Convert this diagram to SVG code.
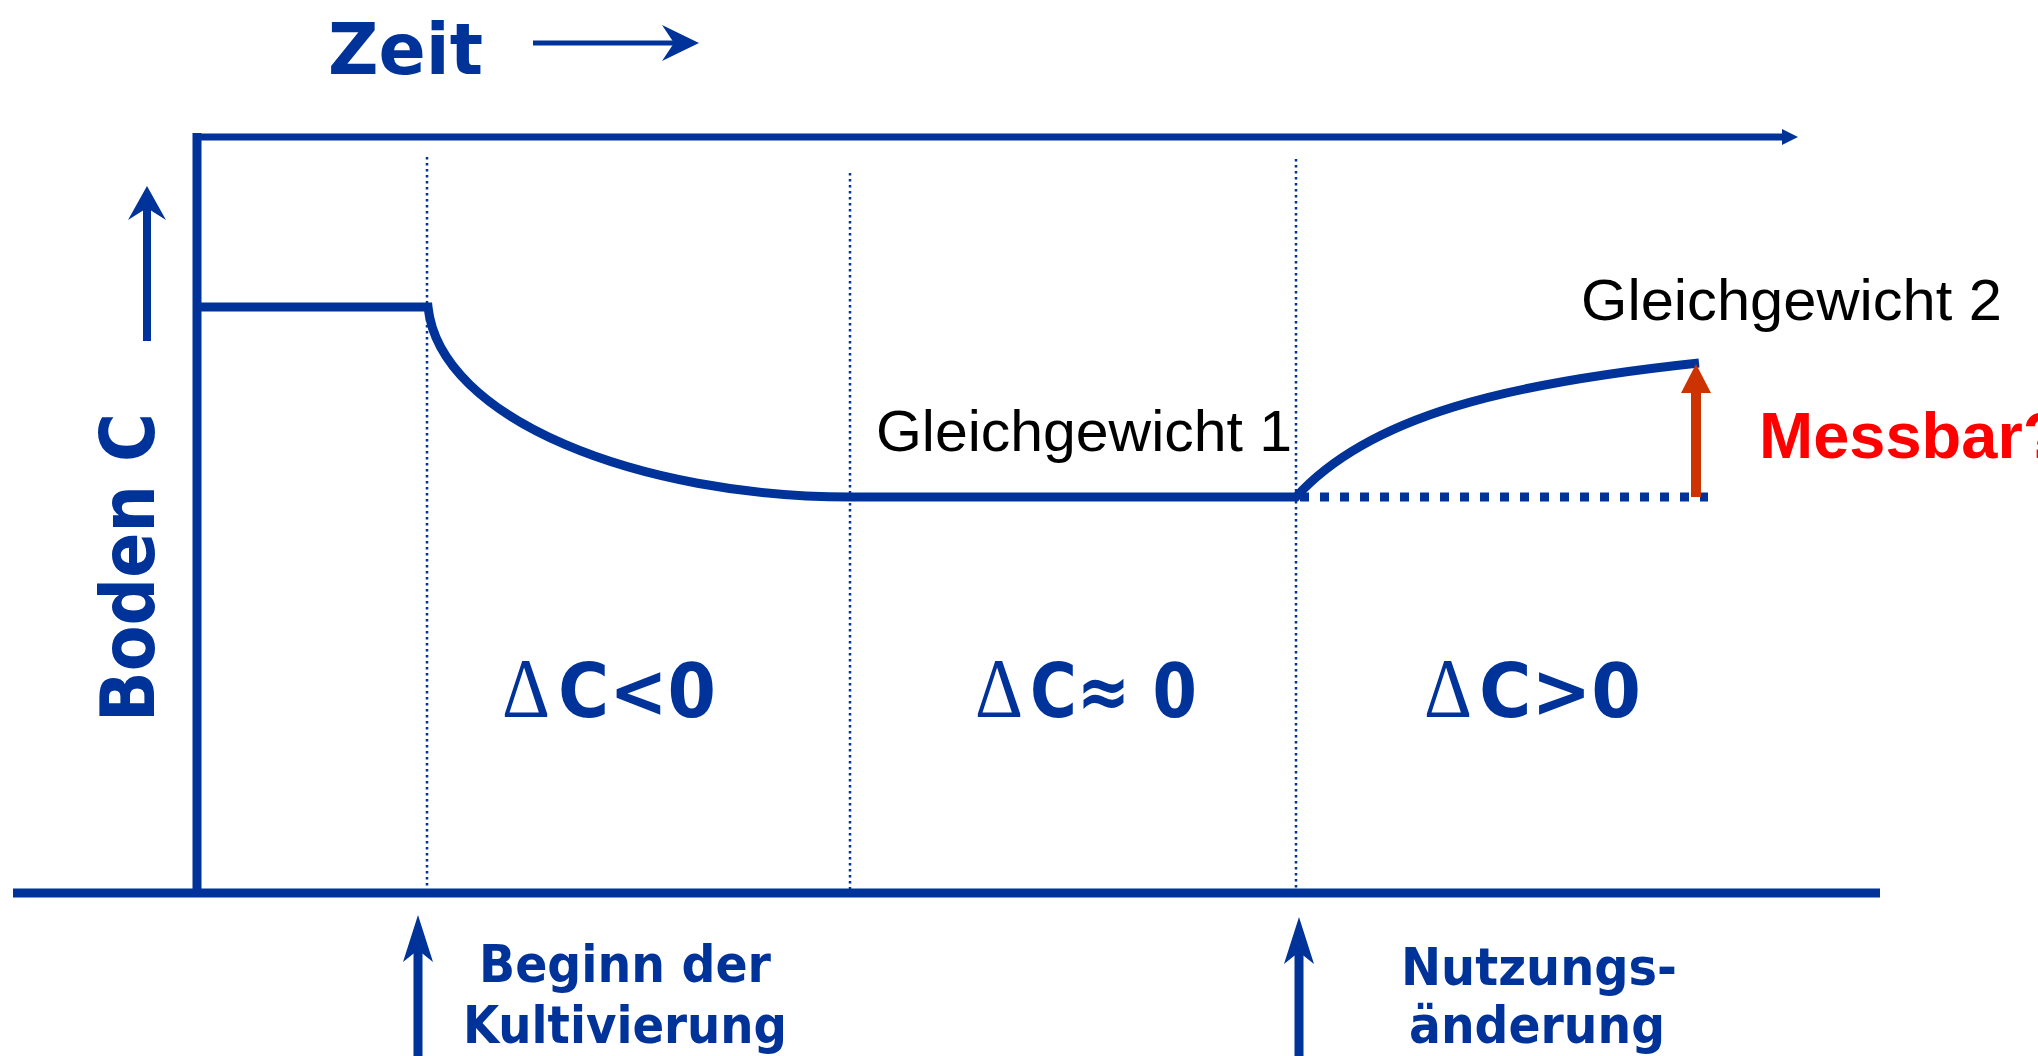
<svg xmlns="http://www.w3.org/2000/svg" width="2038" height="1056" viewBox="0 0 2038 1056">
<style>
.blue{stroke:#003399;fill:none}
.bfill{fill:#003399}
.bold{font-family:"DejaVu Sans",Verdana,sans-serif;font-weight:bold;fill:#003399}
.delta{font-family:"Liberation Serif","DejaVu Serif",serif;font-weight:normal;fill:#003399}
.plain{font-family:"Liberation Sans",Arial,sans-serif;fill:#000000}
.red{font-family:"Liberation Sans",Arial,sans-serif;font-weight:bold;fill:#FF0000}
.dotv{stroke:#003399;stroke-width:2.5;stroke-dasharray:2.5 3.5;fill:none}
</style>
<rect width="2038" height="1056" fill="#ffffff"/>
<g id="title">
<text class="bold" x="328" y="74" font-size="71" textLength="155" lengthAdjust="spacingAndGlyphs">Zeit</text>
<line class="blue" x1="533" y1="43" x2="685" y2="43" stroke-width="5"/>
<polygon class="bfill" points="699,43 662,25 674,43 662,61"/>
</g>
<g id="axes">
<line class="blue" x1="193" y1="137" x2="1786" y2="137" stroke-width="7"/>
<polygon class="bfill" points="1798,137 1782,129 1782,145"/>
<line class="blue" x1="197" y1="133" x2="197" y2="897" stroke-width="9"/>
<line class="blue" x1="13" y1="893" x2="1880" y2="893" stroke-width="9"/>
<text class="bold" transform="translate(154,722) rotate(-90)" font-size="74" textLength="309" lengthAdjust="spacingAndGlyphs">Boden C</text>
<line class="blue" x1="147" y1="341" x2="147" y2="205" stroke-width="8"/>
<polygon class="bfill" points="147,186 166,220 147,208 128,220"/>
</g>
<g id="phase-lines">
<line class="dotv" x1="427" y1="157" x2="427" y2="890"/>
<line class="dotv" x1="850" y1="173" x2="850" y2="890"/>
<line class="dotv" x1="1296" y1="159" x2="1296" y2="890"/>
</g>
<g id="curve">
<path class="blue" stroke-width="9" d="M197,307 H428 C440,420 640,497 851,497 H1296 C1370,415 1510,383 1699,363"/>
<line x1="1300" y1="497" x2="1708" y2="497" stroke="#003399" stroke-width="9" stroke-dasharray="9 11"/>
</g>
<g id="measurable">
<line x1="1696" y1="497" x2="1696" y2="388" stroke="#CC3300" stroke-width="10"/>
<polygon points="1696,364 1711,393 1681,393" fill="#CC3300"/>
<text class="red" x="1759" y="458" font-size="65">Messbar?</text>
</g>
<g id="labels">
<text class="plain" x="876" y="451" font-size="57" textLength="416" lengthAdjust="spacingAndGlyphs">Gleichgewicht 1</text>
<text class="plain" x="1581" y="320" font-size="57" textLength="421" lengthAdjust="spacingAndGlyphs">Gleichgewicht 2</text>
</g>
<g id="deltas">
<text class="delta" x="502" y="717" font-size="84" textLength="48" lengthAdjust="spacingAndGlyphs">Δ</text>
<text class="bold" x="558" y="717" font-size="74" textLength="158" lengthAdjust="spacingAndGlyphs">C&lt;0</text>
<text class="delta" x="975" y="717" font-size="84" textLength="48" lengthAdjust="spacingAndGlyphs">Δ</text>
<text class="bold" x="1030" y="717" font-size="74" textLength="167" lengthAdjust="spacingAndGlyphs">C≈ 0</text>
<text class="delta" x="1424" y="717" font-size="84" textLength="48" lengthAdjust="spacingAndGlyphs">Δ</text>
<text class="bold" x="1479" y="717" font-size="74" textLength="162" lengthAdjust="spacingAndGlyphs">C&gt;0</text>
</g>
<g id="events">
<line class="blue" x1="418" y1="945" x2="418" y2="1056" stroke-width="9"/>
<polygon class="bfill" points="418,915 433,962 418,950 403,962"/>
<text class="bold" x="625" y="982" font-size="52" text-anchor="middle" textLength="292" lengthAdjust="spacingAndGlyphs">Beginn der</text>
<text class="bold" x="625" y="1043" font-size="52" text-anchor="middle" textLength="324" lengthAdjust="spacingAndGlyphs">Kultivierung</text>
<line class="blue" x1="1299" y1="945" x2="1299" y2="1056" stroke-width="9"/>
<polygon class="bfill" points="1299,917 1314,964 1299,952 1284,964"/>
<text class="bold" x="1539" y="985" font-size="52" text-anchor="middle" textLength="276" lengthAdjust="spacingAndGlyphs">Nutzungs-</text>
<text class="bold" x="1537" y="1043" font-size="52" text-anchor="middle" textLength="256" lengthAdjust="spacingAndGlyphs">änderung</text>
</g>
</svg>
